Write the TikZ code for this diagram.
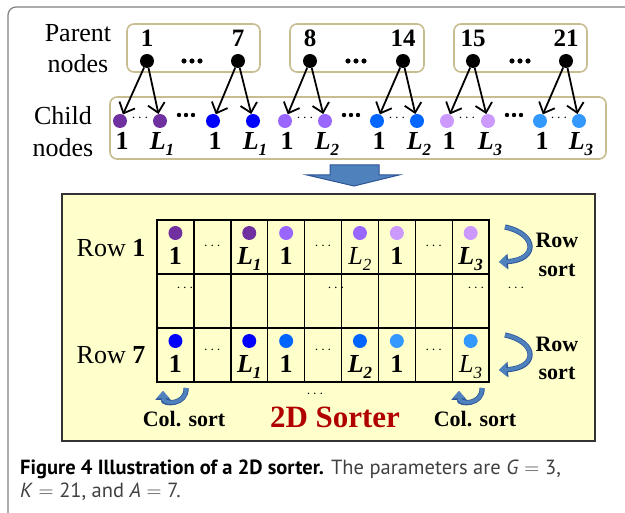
\documentclass[tikz,border=0pt]{standalone}
\usepackage{fontspec}
\setmainfont{Liberation Serif}
\newfontfamily\capfont{PT Sans}
\usetikzlibrary{arrows.meta}

\definecolor{grpA}{RGB}{112,48,160}
\definecolor{grpB}{RGB}{0,0,255}
\definecolor{grpC}{RGB}{153,102,255}
\definecolor{grpD}{RGB}{0,102,255}
\definecolor{grpE}{RGB}{204,153,255}
\definecolor{grpF}{RGB}{51,153,255}
\definecolor{boxtan}{RGB}{200,188,145}
\definecolor{sorterbg}{RGB}{255,255,204}
\definecolor{bigblue}{RGB}{79,129,189}
\definecolor{bigedge}{RGB}{47,85,151}
\definecolor{sorterred}{RGB}{176,0,0}

% L with a small italic index, bold or plain
\newcommand{\Lb}[1]{\textbf{\textit{L}\raisebox{-0.45ex}{\fontsize{17}{17}\selectfont\textit{#1}}}}
\newcommand{\Lp}[1]{{\mdseries\textit{L}\raisebox{-0.45ex}{\fontsize{17}{17}\selectfont\textit{#1}}}}
\newcommand{\eq}{\;$=$\;}

\tikzset{
  ball/.style={circle, fill=#1, inner sep=0pt, minimum size=14pt},
  num/.style={font=\fontsize{25}{25}\selectfont\bfseries, inner sep=0pt, anchor=base},
  lab/.style={font=\fontsize{26}{26}\selectfont, inner sep=0pt, anchor=base},
  sortlab/.style={font=\fontsize{22}{22}\selectfont\bfseries, inner sep=0pt, anchor=base},
  few/.style={font=\fontsize{15}{15}\selectfont, inner sep=0pt},
  groupbox/.style={draw=boxtan, line width=1.6pt, rounded corners=7pt},
  link/.style={line width=1.8pt, -{Straight Barb[length=9pt,width=17pt]}},
  sortarrow/.style={draw=bigblue, line width=3.6pt, -{Triangle[length=7.5pt,width=13pt]},
    preaction={draw=bigedge, line width=5.2pt, -{Triangle[length=9pt,width=15pt]}}},
  caption/.style={font=\capfont\fontsize{20.5}{25}\selectfont, text=black!75, inner sep=0pt, anchor=base west},
}

\begin{document}
\begin{tikzpicture}[x=1pt, y=-1pt]
\useasboundingbox (0,0) rectangle (625,513);
\draw[gray, line width=1.2pt, rounded corners=8pt] (8,513) -- (8,7) -- (625,7);

% parents
\node[lab] at (78,42) {Parent};
\node[lab] at (78,73) {nodes};
\draw[groupbox] (127,24) rectangle (260,72);
\draw[groupbox] (290,24) rectangle (424,72);
\draw[groupbox] (454,24) rectangle (587,72);
\foreach \n/\x in {1/147, 7/238, 8/310, 14/403, 15/473, 21/566} {
    \node[num] at (\x,47) {\n};
    \node[ball=black] (p\n) at (\x,61) {};
}
\foreach \x in {192, 356, 520} {
    \foreach \d in {-8,0,8} \fill (\x+\d,61) circle (2.6pt);
}

% children
\node[lab] at (63,125) {Child};
\node[lab] at (63,157) {nodes};
\draw[groupbox] (110,97) rectangle (606,159);
\foreach \i/\x/\clr/\lab in {1/120/grpA/1, 2/160/grpA/\Lb{1}, 3/213/grpB/1, 4/253/grpB/\Lb{1},
        5/285/grpC/1, 6/325/grpC/\Lb{2}, 7/377/grpD/1, 8/417/grpD/\Lb{2},
        9/447/grpE/1, 10/488/grpE/\Lb{3}, 11/540/grpF/1, 12/579/grpF/\Lb{3}} {
    \node[ball=\clr] (c\i) at (\x,121) {};
    \node[num, font=\fontsize{26}{26}\selectfont\bfseries] at (\x+2,150) {\lab};
}
\foreach \x in {140, 305, 397, 467, 559} \node[few] at (\x,118) {$\cdots$};
\foreach \x in {186, 351, 514} {
    \foreach \d in {-7,0,7} \fill (\x+\d,115) circle (2.2pt);
}
\foreach \p/\a/\b in {1/1/2, 7/3/4, 8/5/6, 14/7/8, 15/9/10, 21/11/12} {
    \draw[link] (p\p) -- (c\a);
    \draw[link] (p\p) -- (c\b);
}

% big arrow down to the sorter
\draw[fill=bigblue, draw=bigedge, line width=1pt]
    (330,165) -- (379,165) -- (379,175) -- (399,175) -- (354,186) -- (307,175) -- (330,175) -- cycle;

% the 2D sorter
\draw[fill=sorterbg, draw=black!80, line width=1.5pt] (62,194) rectangle (595,441);
\foreach \i in {0,...,9} \draw[line width=1.4pt] ({157+\i*36.9},220) -- ++(0,162);
\foreach \j in {0,...,3} \draw[line width=1.4pt] (156,220+\j*54) -- (490,220+\j*54);

\node[lab] at (111,257) {Row \textbf{1}};
\node[lab] at (111,364) {Row \textbf{7}};

\foreach \col/\clr/\lab in {1/grpA/1, 3/grpA/\Lb{1}, 4/grpC/1, 6/grpC/\Lp{2}, 7/grpE/1, 9/grpE/\Lb{3}} {
    \node[ball=\clr] (a\col) at ({157+(\col-0.5)*36.9},233) {};
    \node[num, font=\fontsize{26}{26}\selectfont\bfseries] at ({157+(\col-0.5)*36.9},265) {\lab};
}
\foreach \col/\clr/\lab in {1/grpB/1, 3/grpB/\Lb{1}, 4/grpD/1, 6/grpD/\Lb{2}, 7/grpF/1, 9/grpF/\Lp{3}} {
    \node[ball=\clr] (b\col) at ({157+(\col-0.5)*36.9},341) {};
    \node[num, font=\fontsize{26}{26}\selectfont\bfseries] at ({157+(\col-0.5)*36.9},373) {\lab};
}
\foreach \col in {2,5,8} {
    \node[few] at ({157+(\col-0.5)*36.9},246) {$\cdots$};
    \node[few] at ({157+(\col-0.5)*36.9},350) {$\cdots$};
}
\foreach \x in {185, 336, 476, 516} \node[few] at (\x,288) {$\cdots$};
\node[few] at (315,394) {$\cdots$};

% sorting directions
\draw[sortarrow] (505,227) .. controls (538,234) and (538,260) .. (499,262);
\draw[sortarrow] (505,335) .. controls (538,342) and (538,368) .. (499,370);
\node[sortlab] at (557,248) {Row};
\node[sortlab] at (557,277) {sort};
\node[sortlab] at (557,352) {Row};
\node[sortlab] at (557,380) {sort};
\draw[sortarrow] (186,388) .. controls (187,405) and (163,405) .. (163,391);
\draw[sortarrow] (482,388) .. controls (483,405) and (459,405) .. (459,391);
\node[sortlab] at (184,427) {Col. sort};
\node[sortlab] at (475,427) {Col. sort};
\node[font=\fontsize{31}{31}\selectfont\bfseries, text=sorterred, inner sep=0pt, anchor=base] at (335,428) {2D Sorter};

% caption
\node[caption] at (20,475)
    {\textcolor{black}{\textbf{Figure 4 Illustration of a 2D sorter.}} The parameters are \textit{G}\eq 3,};
\node[caption] at (20,498) {\textit{K}\eq 21, and \textit{A}\eq 7.};
\end{tikzpicture}
\end{document}
